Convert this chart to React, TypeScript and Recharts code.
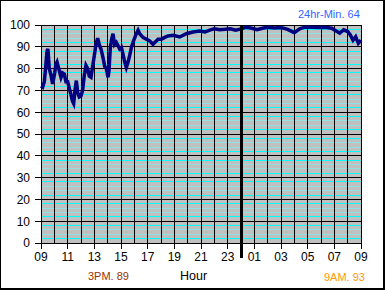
import {
  LineChart, Line, XAxis, YAxis, CartesianGrid, ReferenceLine,
} from 'recharts';

// Readings, hour of day (9 = 09:00, 33 = 09:00 next day)
const HOURS = [
  9, 9.12, 9.25, 9.37, 9.45, 9.52, 9.62, 9.75, 9.87,
  10, 10.12, 10.2, 10.37, 10.5, 10.62, 10.75, 10.87,
  11, 11.12, 11.25, 11.37, 11.45, 11.55, 11.65, 11.75, 11.87,
  12, 12.12, 12.25, 12.37, 12.5, 12.62, 12.75, 12.87,
  13, 13.12, 13.25, 13.37, 13.5, 13.65, 13.78, 13.9,
  14.03, 14.1, 14.2, 14.3, 14.4, 14.52, 14.65, 14.78, 14.9,
  15.03, 15.15, 15.28, 15.4, 15.53, 15.65, 15.78, 15.9,
  16.15, 16.28, 16.4, 16.65, 16.9,
  17.15, 17.4, 17.53, 17.78, 18.03, 18.28, 18.53, 18.9,
  19.4, 19.9, 20.4, 20.9, 21.3, 21.6, 22, 22.4, 22.8, 23.2, 23.6,
  24, 24.4, 24.8, 25.2, 25.6, 26, 26.5, 27, 27.5, 28, 28.4, 28.8,
  29.3, 29.8, 30.3, 30.8, 31.2, 31.4, 31.7, 32, 32.2, 32.4, 32.6, 32.8, 33,
];

const READINGS = [
  72, 71.5, 74, 82, 88, 89, 80, 77, 73,
  77, 82, 83, 79, 76, 78, 77.5, 74,
  74, 71, 68, 65, 64, 70, 74.5, 69, 67,
  67.5, 70, 77, 81.5, 80, 76.5, 76, 81,
  86, 91, 94, 91, 89, 85, 81, 80,
  76, 79, 89.7, 93.5, 96, 91, 92, 90.5, 89,
  89.7, 86.6, 83, 80.5, 83, 86, 89.7, 92,
  96, 97.6, 96, 94.3, 93.5,
  92.7, 91.2, 92, 93.5, 93.5, 94.3, 95, 95.3,
  94.5, 96, 96.8, 97.2, 96.8, 97.5, 98.3, 97.8, 98, 98.3, 97.6,
  98.2, 99, 98.5, 97.8, 98.5, 99, 98.6, 98.8, 98, 96.5, 98.2, 99,
  99, 98.8, 99, 98.5, 97, 96.3, 97.8, 97, 95.4, 93, 94.6, 91.6, 93,
];

const HOUR_TICKS = Array.from({ length: 25 }, (_, i) => 9 + i);
// gridline every 2 units, labelled every 10
const Y_GRID = Array.from({ length: 51 }, (_, i) => i * 2);

const data = HOURS.map((h, i) => ({ h, v: READINGS[i] }));

const FONT = '"Liberation Sans", Arial, sans-serif';
const LINE_COLOR = '#000080';
const CRISP = 'crispEdges';

function gridColor(v: number) {
  const r = Math.round(v) % 10;
  if (r === 0) return '#000000';
  if (r === 2 || r === 8) return '#00ffff';
  return '#8fe3e3';
}

function HGridLine(p: any) {
  let v: number;
  if (typeof p.height === 'number' && typeof p.y === 'number' && p.height > 0) {
    v = ((p.y + p.height - p.y1) / p.height) * 100;
  } else {
    v = Y_GRID[p.index] ?? 0;
  }
  return (
    <line key={p.key} x1={p.x1} y1={p.y1} x2={p.x2} y2={p.y2}
      stroke={gridColor(v)} strokeWidth={1} shapeRendering={CRISP} />
  );
}

function HourTick({ x, y, payload }: any) {
  const h = payload.value as number;
  if (h % 2 === 0) return <g />;
  const label = String(h % 24).padStart(2, '0');
  return (
    <g>
      <line x1={x} x2={x} y1={y} y2={y + 6} stroke="#000" shapeRendering={CRISP} />
      <text x={x} y={y + 9} dy="0.71em" textAnchor="middle" fontSize={12} fill="#000" fontFamily={FONT}>
        {label}
      </text>
    </g>
  );
}

function ValueTick({ x, y, payload }: any) {
  const v = payload.value as number;
  if (v % 10 !== 0) return <g />;
  return (
    <g>
      <line x1={x - 6} x2={x} y1={y} y2={y} stroke="#000" shapeRendering={CRISP} />
      <text x={x - 11} y={y} dy="0.36em" textAnchor="end" fontSize={12} fill="#000" fontFamily={FONT}>
        {v}
      </text>
    </g>
  );
}

function MidnightLine(p: any) {
  const top = Math.min(p.y1, p.y2);
  const bottom = Math.max(p.y1, p.y2);
  return <line x1={p.x1} x2={p.x2} y1={top} y2={bottom + 15} stroke="#000" strokeWidth={3} shapeRendering={CRISP} />;
}

export default function App() {
  return (
    <div style={{ position: 'fixed', left: 0, top: 0, width: 385, height: 290, background: '#fff', fontFamily: FONT }}>
      <LineChart width={385} height={290} data={data} margin={{ top: 25, right: 24, bottom: 17, left: 0 }}>
        <CartesianGrid
          fill="#c0c0c0"
          fillOpacity={1}
          stroke="#000"
          shapeRendering={CRISP}
          horizontal={(p: any) => <HGridLine {...p} />}
        />
        <XAxis
          dataKey="h"
          type="number"
          domain={[9, 33]}
          ticks={HOUR_TICKS}
          interval={0}
          height={30}
          tickSize={0}
          tickMargin={0}
          tickLine={false}
          tick={(props: any) => <HourTick {...props} />}
          axisLine={{ stroke: '#000', shapeRendering: CRISP }}
        />
        <XAxis xAxisId="top" orientation="top" type="number" domain={[9, 33]} height={0} tick={false} tickLine={false} axisLine={{ stroke: '#808080', shapeRendering: CRISP }} />
        <YAxis
          domain={[0, 100]}
          ticks={Y_GRID}
          interval={0}
          width={41}
          tickSize={0}
          tickMargin={0}
          tickLine={false}
          tick={(props: any) => <ValueTick {...props} />}
          axisLine={{ stroke: '#000', shapeRendering: CRISP }}
        />
        <YAxis yAxisId="right" orientation="right" domain={[0, 100]} width={0} tick={false} tickLine={false} axisLine={{ stroke: '#808080', shapeRendering: CRISP }} />

        <Line
          dataKey="v"
          type="linear"
          stroke={LINE_COLOR}
          strokeWidth={3.5}
          dot={false}
          isAnimationActive={false}
        />
        <ReferenceLine x={24} ifOverflow="visible" shape={MidnightLine} />
      </LineChart>

      <div style={{ position: 'absolute', left: 298, top: 9, fontSize: 11, lineHeight: '11px', color: '#3366ff', whiteSpace: 'nowrap' }}>
        24hr-Min. 64
      </div>
      <div style={{ position: 'absolute', left: 88, top: 271, fontSize: 11, lineHeight: '11px', color: '#993300', whiteSpace: 'nowrap' }}>
        3PM. 89
      </div>
      <div style={{ position: 'absolute', left: 180, top: 270, fontSize: 12.5, lineHeight: '12px', color: '#000', whiteSpace: 'nowrap' }}>
        Hour
      </div>
      <div style={{ position: 'absolute', left: 324, top: 272, fontSize: 11, lineHeight: '11px', color: '#ff9900', whiteSpace: 'nowrap' }}>
        9AM. 93
      </div>

      <div style={{
        position: 'absolute', inset: 0, boxSizing: 'border-box', pointerEvents: 'none',
        borderTop: '1px solid #000', borderLeft: '1px solid #000',
        borderRight: '2px solid #000', borderBottom: '2px solid #000',
      }} />
    </div>
  );
}
